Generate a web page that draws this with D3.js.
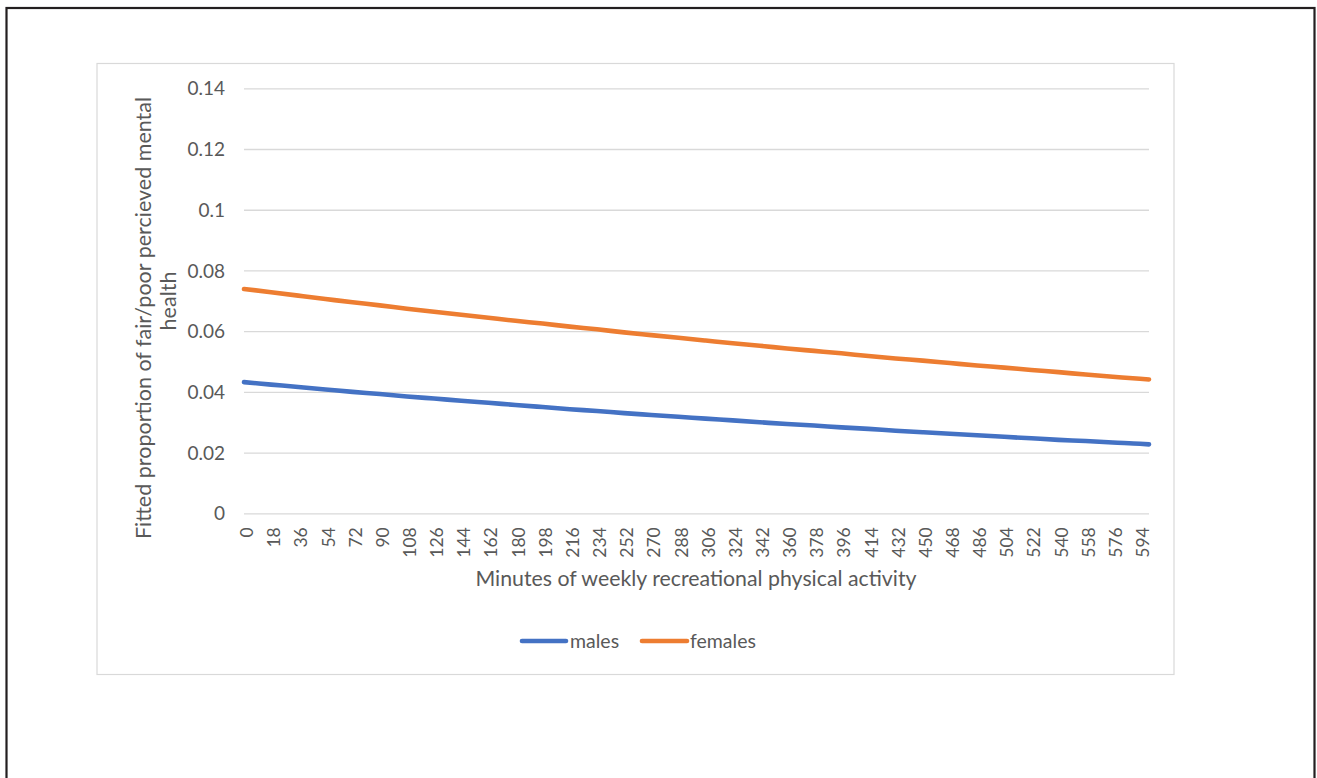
<!DOCTYPE html>
<html>
<head>
<meta charset="utf-8">
<script src="https://cdn.jsdelivr.net/npm/d3@7"></script>
<style>
  html, body { margin: 0; padding: 0; background: #fff; }
  svg { display: block; }
  text { font-family: "Lato", "Liberation Sans", sans-serif; fill: #595959; }
</style>
</head>
<body>
<svg id="chart" width="1317" height="778"></svg>
<script>
// ---- data ----
const minutes = [0, 18, 36, 54, 72, 90, 108, 126, 144, 162, 180, 198, 216, 234, 252, 270, 288, 306, 324, 342, 360, 378, 396, 414, 432, 450, 468, 486, 504, 522, 540, 558, 576, 594, 600];
const males = [0.0432, 0.0424, 0.0416, 0.0408, 0.0400, 0.0393, 0.0385, 0.0378, 0.0371, 0.0364, 0.0357, 0.0350, 0.0343, 0.0337, 0.0330, 0.0324, 0.0318, 0.0312, 0.0306, 0.0300, 0.0294, 0.0289, 0.0283, 0.0278, 0.0272, 0.0267, 0.0262, 0.0257, 0.0252, 0.0247, 0.0242, 0.0238, 0.0233, 0.0229, 0.0227];
const females = [0.0739, 0.0728, 0.0717, 0.0706, 0.0695, 0.0685, 0.0674, 0.0664, 0.0654, 0.0644, 0.0634, 0.0625, 0.0615, 0.0606, 0.0596, 0.0587, 0.0578, 0.0569, 0.0560, 0.0552, 0.0543, 0.0535, 0.0527, 0.0518, 0.0510, 0.0503, 0.0495, 0.0487, 0.0480, 0.0472, 0.0465, 0.0457, 0.0450, 0.0443, 0.0441];
const xTickLabels = [0, 18, 36, 54, 72, 90, 108, 126, 144, 162, 180, 198, 216, 234, 252, 270, 288, 306, 324, 342, 360, 378, 396, 414, 432, 450, 468, 486, 504, 522, 540, 558, 576, 594];
const yTicks = [0, 0.02, 0.04, 0.06, 0.08, 0.1, 0.12, 0.14];
const seriesNames = ["males", "females"];
const seriesColors = ["#4472C4", "#ED7D31"];
const xTitle = "Minutes of weekly recreational physical activity";
const yTitleLines = ["Fitted proportion of fair/poor percieved mental", "health"];

// ---- layout ----
const svg = d3.select("#chart");
const plot = { left: 244, right: 1149, top: 88.3, bottom: 513.3 };

// outer frame
svg.append("rect")
  .attr("x", 6.5).attr("y", 8).attr("width", 1308).attr("height", 800)
  .attr("fill", "none").attr("stroke", "#231f20").attr("stroke-width", 2.2);

// chart area
svg.append("rect")
  .attr("x", 97).attr("y", 63.5).attr("width", 1077).attr("height", 611)
  .attr("fill", "#fff").attr("stroke", "#d9d9d9").attr("stroke-width", 1.2);

const x = d3.scaleLinear().domain([0, 600]).range([plot.left, plot.right]);
const y = d3.scaleLinear().domain([0, 0.14]).range([plot.bottom, plot.top]);

// gridlines + y labels
const yAxis = d3.axisLeft(y).tickValues(yTicks).tickSize(0).tickPadding(0)
  .tickFormat(d => d3.format("")(+d.toFixed(2)));
const gy = svg.append("g").attr("transform", `translate(${plot.left},0)`).call(yAxis);
gy.select(".domain").remove();
gy.selectAll(".tick text")
  .attr("x", 225 - plot.left).attr("dy", "0.35em")
  .style("font-family", "Lato, 'Liberation Sans', sans-serif")
  .style("font-size", "19px").attr("fill", "#595959");
gy.selectAll(".tick line")
  .attr("x2", plot.right - plot.left).attr("stroke", "#d9d9d9").attr("stroke-width", 1.3);

// x axis labels
const xAxis = d3.axisBottom(x).tickValues(xTickLabels).tickSize(0).tickFormat(d3.format("d"));
const gx = svg.append("g").attr("transform", `translate(0,${plot.bottom})`).call(xAxis);
gx.select(".domain").remove();
gx.selectAll(".tick text")
  .attr("transform", "translate(2.5,14) rotate(-90)")
  .attr("x", 0).attr("y", 0).attr("dy", "0.35em")
  .style("text-anchor", "end")
  .style("font-family", "Lato, 'Liberation Sans', sans-serif")
  .style("font-size", "17.5px").attr("fill", "#595959");

// lines
const line = d3.line().x((d, i) => x(minutes[i])).y(d => y(d)).curve(d3.curveMonotoneX);
[males, females].forEach((s, k) => {
  svg.append("path").datum(s)
    .attr("d", line)
    .attr("fill", "none").attr("stroke", seriesColors[k])
    .attr("stroke-width", 4.6).attr("stroke-linecap", "round").attr("stroke-linejoin", "round");
});

// axis titles
svg.append("text").attr("x", 696).attr("y", 586)
  .attr("text-anchor", "middle").style("font-size", "21.3px").text(xTitle);
svg.append("text").attr("transform", "translate(151,318) rotate(-90)")
  .attr("text-anchor", "middle").style("font-size", "21.5px").text(yTitleLines[0]);
svg.append("text").attr("transform", "translate(176,301) rotate(-90)")
  .attr("text-anchor", "middle").style("font-size", "21.5px").text(yTitleLines[1]);

// legend
const legendItems = [
  { name: seriesNames[0], color: seriesColors[0], x1: 522, x2: 566, tx: 570 },
  { name: seriesNames[1], color: seriesColors[1], x1: 642, x2: 687, tx: 690 }
];
legendItems.forEach(it => {
  svg.append("line").attr("x1", it.x1).attr("x2", it.x2).attr("y1", 641).attr("y2", 641)
    .attr("stroke", it.color).attr("stroke-width", 4.6).attr("stroke-linecap", "round");
  svg.append("text").attr("x", it.tx).attr("y", 641).attr("dy", "0.35em")
    .style("font-size", "19.5px").text(it.name);
});
</script>
</body>
</html>
